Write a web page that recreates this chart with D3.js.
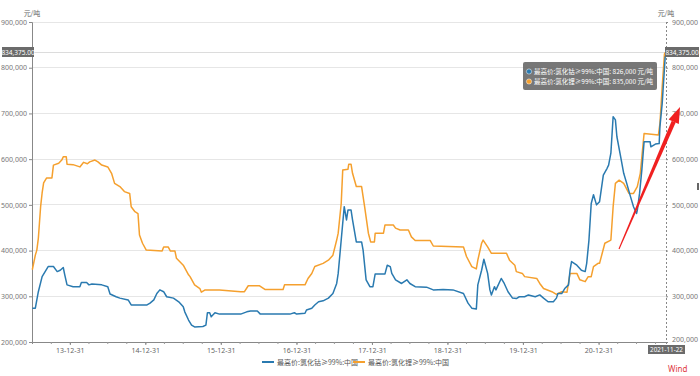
<!DOCTYPE html>
<html><head><meta charset="utf-8">
<script src="https://cdn.jsdelivr.net/npm/d3@7"></script>
<style>
html,body{margin:0;padding:0;background:#fff;}
svg{display:block;font-family:"Noto Sans CJK SC","Noto Sans",sans-serif;}
</style></head><body>
<svg id="chart" width="700" height="376"></svg>
<script>
// ---- data (time as decimal years, values in 元/吨) ----
const seriesNames = ["最高价:氯化钴≥99%:中国", "最高价:氯化锂≥99%:中国"];
const seriesColors = ["#2a7ab0", "#f5a02e"];

const blueT = [2013.50,2013.54,2013.58,2013.63,2013.67,2013.71,2013.78,2013.83,2013.87,2013.91,2013.93,2013.96,2014.04,2014.13,2014.15,2014.22,2014.25,2014.29,2014.42,2014.50,2014.53,2014.61,2014.66,2014.77,2014.81,2015.02,2015.06,2015.11,2015.15,2015.19,2015.24,2015.28,2015.37,2015.44,2015.50,2015.52,2015.57,2015.61,2015.65,2015.76,2015.80,2015.82,2015.85,2015.87,2015.92,2015.98,2016.26,2016.34,2016.39,2016.48,2016.52,2016.91,2016.97,2017.00,2017.11,2017.13,2017.20,2017.24,2017.29,2017.35,2017.42,2017.48,2017.53,2017.55,2017.59,2017.63,2017.66,2017.68,2017.72,2017.74,2017.79,2017.86,2017.88,2017.92,2017.97,2018.01,2018.04,2018.17,2018.20,2018.24,2018.26,2018.31,2018.39,2018.46,2018.50,2018.57,2018.72,2018.81,2018.94,2019.07,2019.21,2019.27,2019.32,2019.38,2019.40,2019.45,2019.48,2019.53,2019.56,2019.58,2019.62,2019.64,2019.71,2019.75,2019.80,2019.86,2019.91,2019.95,2020.02,2020.07,2020.16,2020.22,2020.27,2020.33,2020.40,2020.44,2020.46,2020.51,2020.55,2020.60,2020.62,2020.64,2020.71,2020.77,2020.82,2020.84,2020.87,2020.90,2020.93,2020.97,2021.01,2021.06,2021.11,2021.13,2021.16,2021.19,2021.22,2021.24,2021.29,2021.33,2021.37,2021.42,2021.46,2021.50,2021.51,2021.54,2021.57,2021.60,2021.68,2021.69,2021.75,2021.80,2021.81,2021.84,2021.88,2021.89];
const blueV = [274000,274000,310000,343000,354000,365000,365000,354000,357000,363000,347000,325000,321000,321000,330000,330000,325000,327000,325000,321000,305000,299000,296000,292000,281000,281000,285000,292000,306000,314000,310000,299000,296000,288000,277000,266000,248000,237000,233000,234000,237000,264000,264000,255000,264000,261000,261000,266000,268000,268000,261000,261000,264000,261000,263000,270000,274000,281000,288000,290000,296000,306000,328000,350000,423000,496000,467000,489000,489000,467000,419000,419000,401000,336000,321000,321000,349000,349000,368000,365000,350000,336000,328000,336000,328000,321000,320000,314000,315000,314000,306000,285000,274000,272000,325000,357000,381000,350000,314000,303000,321000,314000,339000,328000,310000,296000,295000,299000,299000,303000,299000,303000,296000,288000,288000,296000,306000,306000,317000,325000,357000,376000,368000,357000,354000,372000,423000,503000,522000,500000,507000,565000,580000,587000,613000,693000,686000,649000,605000,569000,547000,518000,496000,481000,488000,525000,576000,638000,638000,627000,633000,634000,671000,722000,824000,826000];

const orangeT = [2013.50,2013.54,2013.56,2013.58,2013.61,2013.63,2013.65,2013.69,2013.76,2013.78,2013.85,2013.89,2013.91,2013.95,2013.96,2014.04,2014.13,2014.18,2014.23,2014.26,2014.33,2014.37,2014.42,2014.50,2014.55,2014.59,2014.66,2014.72,2014.79,2014.81,2014.86,2014.90,2014.92,2014.96,2015.01,2015.22,2015.24,2015.30,2015.33,2015.39,2015.41,2015.50,2015.57,2015.59,2015.65,2015.72,2015.74,2015.79,2015.98,2016.26,2016.31,2016.36,2016.51,2016.58,2016.82,2016.84,2017.11,2017.15,2017.20,2017.24,2017.35,2017.42,2017.48,2017.53,2017.55,2017.59,2017.61,2017.68,2017.69,2017.72,2017.74,2017.79,2017.86,2017.88,2017.90,2017.95,2017.98,2018.03,2018.04,2018.15,2018.17,2018.28,2018.31,2018.37,2018.48,2018.52,2018.57,2018.77,2018.81,2019.21,2019.25,2019.32,2019.38,2019.40,2019.45,2019.47,2019.53,2019.58,2019.78,2019.82,2019.89,2019.91,2019.99,2020.02,2020.18,2020.22,2020.27,2020.38,2020.44,2020.51,2020.58,2020.62,2020.71,2020.75,2020.82,2020.86,2020.90,2020.93,2020.99,2021.01,2021.08,2021.16,2021.19,2021.22,2021.27,2021.33,2021.40,2021.46,2021.51,2021.55,2021.60,2021.79,2021.81,2021.84,2021.87,2021.89];
const orangeV = [358000,390000,401000,427000,496000,526000,548000,559000,559000,587000,591000,598000,605000,605000,589000,588000,583000,593000,590000,594000,598000,594000,587000,583000,569000,547000,540000,529000,525000,496000,485000,481000,434000,416000,401000,399000,408000,408000,399000,399000,383000,368000,347000,343000,325000,317000,309000,314000,314000,310000,310000,323000,323000,315000,315000,325000,325000,339000,350000,365000,372000,379000,390000,423000,438000,503000,576000,578000,589000,589000,569000,540000,540000,518000,496000,438000,419000,419000,438000,438000,456000,456000,449000,445000,445000,430000,422000,422000,410000,408000,387000,365000,360000,379000,416000,423000,408000,394000,394000,379000,368000,354000,350000,343000,339000,328000,317000,310000,304000,310000,309000,350000,350000,336000,332000,343000,343000,365000,372000,372000,416000,423000,496000,547000,554000,547000,525000,525000,540000,569000,656000,653000,678000,758000,830000,835000];

const yTicks = [200000,300000,400000,500000,600000,700000,800000,900000];
const xMajorLabels = ["13-12-31","14-12-31","15-12-31","16-12-31","17-12-31","18-12-31","19-12-31","20-12-31"];
const startDate = "2013-07-01", endDate = "2021-11-22";
const crossValue = 834375;
const tooltipValues = [826000, 835000];
const unitLabel = "元/吨";

// ---- helpers ----
function fromDecimalYear(y){
  const yr = Math.floor(y);
  const s = new Date(yr,0,1), e = new Date(yr+1,0,1);
  return new Date(+s + (y-yr)*(e-s));
}
const parse = d3.timeParse("%Y-%m-%d");
const fmt = d3.format(",");

const svg = d3.select("#chart");
const L = 32, R = 666, T = 22, B = 342;
const x = d3.scaleTime().domain([parse(startDate), parse(endDate)]).range([L, R]);
const y = d3.scaleLinear().domain([200000, 900000]).range([B, T]);

// gridlines
svg.append("g").selectAll("line").data(yTicks).join("line")
  .attr("x1", L).attr("x2", R).attr("y1", d=>y(d)).attr("y2", d=>y(d))
  .attr("stroke", "#e6e6e6").attr("stroke-width", 1).attr("shape-rendering","crispEdges");

// crosshair horizontal
svg.append("line").attr("x1", L).attr("x2", R).attr("y1", Math.round(y(crossValue))+0.5).attr("y2", Math.round(y(crossValue))+0.5)
  .attr("stroke", "#dcdcdc").attr("stroke-width", 1);

// left axis
const gl = svg.append("g").attr("transform", `translate(${L},0)`)
  .call(d3.axisLeft(y).tickValues(yTicks).tickFormat(fmt).tickSize(3).tickPadding(2));
gl.select(".domain").attr("stroke", "#888");
gl.selectAll(".tick line").attr("stroke", "#888");
gl.selectAll("text").attr("fill", "#777").attr("font-size", 7).attr("font-family","Noto Sans, sans-serif");

// right axis (dashed)
const gr = svg.append("g").attr("transform", `translate(${R},0)`)
  .call(d3.axisRight(y).tickValues(yTicks).tickFormat(fmt).tickSize(2).tickPadding(4));
gr.select(".domain").attr("stroke", "#888").attr("stroke-dasharray", "2,2");
gr.selectAll(".tick line").attr("stroke", "#888");
gr.selectAll("text").attr("fill", "#777").attr("font-size", 7).attr("font-family","Noto Sans, sans-serif");
gr.selectAll(".tick text").attr("dy", (d)=> d === 200000 ? "-0.1em" : "0.32em");

// x axis
const majorDates = xMajorLabels.map(s => parse("20" + s.slice(0,2) + "-12-31"));
const minorDates = [];
for (let yr = 2013; yr <= 2021; yr++) {
  ["03-31","06-30","09-30","12-31"].forEach(md => {
    const d = parse(yr + "-" + md);
    if (d > parse(startDate) && d < parse(endDate)) minorDates.push(d);
  });
}
const gxMinor = svg.append("g").attr("transform", `translate(0,${B})`)
  .call(d3.axisBottom(x).tickValues(minorDates).tickFormat("").tickSize(2));
gxMinor.select(".domain").attr("stroke", "#888");
gxMinor.selectAll(".tick line").attr("stroke", "#999");
const gx = svg.append("g").attr("transform", `translate(0,${B})`)
  .call(d3.axisBottom(x).tickValues(majorDates).tickFormat((d,i)=>xMajorLabels[i]).tickSize(3).tickPadding(3));
gx.select(".domain").remove();
gx.selectAll(".tick line").attr("stroke", "#888");
gx.selectAll("text").attr("fill", "#666").attr("font-size", 7).attr("font-family","Noto Sans, sans-serif");

// unit labels
svg.append("text").attr("x", L).attr("y", 16).attr("text-anchor","middle").attr("font-size", 7).attr("fill","#666").text(unitLabel);
svg.append("text").attr("x", R).attr("y", 16).attr("text-anchor","middle").attr("font-size", 7).attr("fill","#666").text(unitLabel);

// lines
const line = d3.line().x(d=>x(d[0])).y(d=>y(d[1]));
const orangeData = orangeT.map((t,i)=>[fromDecimalYear(t), orangeV[i]]);
const blueData = blueT.map((t,i)=>[fromDecimalYear(t), blueV[i]]);
svg.append("path").datum(orangeData).attr("d", line).attr("fill","none")
  .attr("stroke", seriesColors[1]).attr("stroke-width", 1.5).attr("stroke-linejoin","round");
svg.append("path").datum(blueData).attr("d", line).attr("fill","none")
  .attr("stroke", seriesColors[0]).attr("stroke-width", 1.5).attr("stroke-linejoin","round");

// value label boxes on axes
const cy = y(crossValue);
svg.append("rect").attr("x", 2).attr("y", cy-5).attr("width", 32).attr("height", 10).attr("fill", "#6b6b6b");
svg.append("text").attr("x", 18).attr("y", cy+2.5).attr("text-anchor","middle").attr("font-size", 6.5).attr("fill","#fff")
  .attr("font-family","Noto Sans, sans-serif").text(d3.format(",.2f")(crossValue));
svg.append("rect").attr("x", R-1).attr("y", cy-5).attr("width", 34).attr("height", 10).attr("fill", "#6b6b6b");
svg.append("text").attr("x", R+16).attr("y", cy+2.5).attr("text-anchor","middle").attr("font-size", 6.5).attr("fill","#fff")
  .attr("font-family","Noto Sans, sans-serif").text(d3.format(",.2f")(crossValue));

// date box
svg.append("rect").attr("x", R-18).attr("y", B+3).attr("width", 37).attr("height", 9).attr("fill", "#6b6b6b");
svg.append("text").attr("x", R+0.5).attr("y", B+10).attr("text-anchor","middle").attr("font-size", 6.3).attr("fill","#fff")
  .attr("font-family","Noto Sans, sans-serif").text(endDate);

// tooltip
const tip = svg.append("g").attr("transform","translate(523,62)");
tip.append("rect").attr("width", 134).attr("height", 28).attr("rx", 2).attr("fill", "rgba(95,95,95,0.85)");
seriesNames.forEach((n,i)=>{
  tip.append("circle").attr("cx", 6).attr("cy", 9.5 + i*10).attr("r", 2.6).attr("fill", seriesColors[i]).attr("stroke","#fff").attr("stroke-width",0.5);
  tip.append("text").attr("x", 11).attr("y", 12 + i*10).attr("font-size", 6.5).attr("fill","#fff")
    .text(n + ": " + fmt(tooltipValues[i]) + " 元/吨");
});

// legend
const legendX = [262, 353];
seriesNames.forEach((n,i)=>{
  svg.append("line").attr("x1", legendX[i]).attr("x2", legendX[i]+12).attr("y1", 362).attr("y2", 362)
    .attr("stroke", seriesColors[i]).attr("stroke-width", 2);
  svg.append("text").attr("x", legendX[i]+15).attr("y", 364.5).attr("font-size", 7).attr("fill","#555").text(n);
});

// Wind mark
svg.append("text").attr("x", 668).attr("y", 372).attr("font-size", 8).attr("fill","#e0383e").attr("font-family","Noto Sans, sans-serif").text("Wind");

// small scrollbar mark at right edge
svg.append("rect").attr("x", 697).attr("y", 183).attr("width", 2).attr("height", 7).attr("fill","#666");

// red hand-drawn arrow annotation
const arrow = svg.append("g");
arrow.append("path").attr("d","M618.5,248.8 L619.5,249.2 L675.7,122.6 L671.7,120.8 Z").attr("fill","#f02020");
arrow.append("path").attr("d","M680,107 L678.8,124 L668.6,119.5 Z").attr("fill","#f02020");
</script>
</body></html>
